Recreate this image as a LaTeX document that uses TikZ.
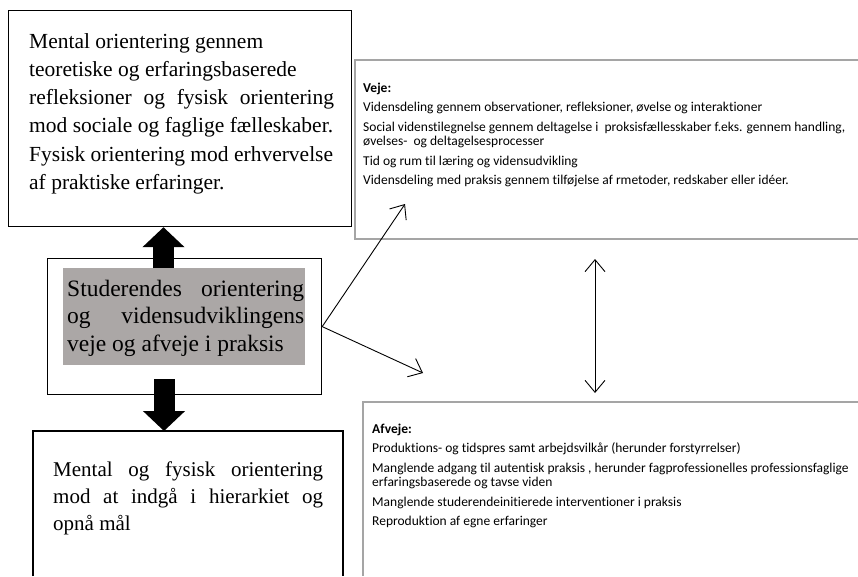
\documentclass[tikz,border=0pt]{standalone}
\usepackage{fontspec}
\setmainfont{Liberation Serif}
\newfontfamily\calibri[RawFeature={-liga}]{Carlito}
\usetikzlibrary{arrows.meta}
\definecolor{boxgray}{RGB}{165,165,165}
\definecolor{markgray}{RGB}{171,167,166}
\tikzset{
  blackbox/.style={draw=black, line width=1.2pt},
  graybox/.style={draw=boxgray, line width=2.4pt},
  barb/.tip={Straight Barb[length=12pt,width=20pt]},
  thinline/.style={line width=0.9pt},
  blockarrow/.style={line width=21pt, -{Triangle[length=20pt,width=41pt]}},
  txt/.style={anchor=base west, inner sep=0pt},
}
\newcommand{\serifbig}{\fontsize{21.5}{28.3}\selectfont}
\newcommand{\serifmid}{\fontsize{23.5}{27.5}\selectfont}
\newcommand{\seriflow}{\fontsize{21}{27}\selectfont}
\newcommand{\listfont}{\calibri\fontsize{13.5}{14.5}\selectfont\setlength{\parskip}{5pt}}
\newcommand{\wideline}[1]{\hbox to 305pt{#1}}
\begin{document}
\begin{tikzpicture}[x=1pt,y=-1pt]
\useasboundingbox (0,0) rectangle (858,576);

% boxes
\node[blackbox, anchor=north west, minimum width=343pt, minimum height=216pt, inner sep=0pt] (top) at (8,10) {};
\node[blackbox, anchor=north west, minimum width=274pt, minimum height=136pt, inner sep=0pt] (mid) at (47,258) {};
\node[fill=markgray, anchor=north west, minimum width=242pt, minimum height=97pt, inner sep=0pt] (mark) at (63,268) {};
\draw[blackbox] (33,576) -- (33,431) coordinate (botnw) -- (343,431) coordinate (botne) -- (343,576);
\coordinate (botn) at (188,431);
\draw[graybox] (858,60) -- (355,60) coordinate (vejenw) -- (355,239) -- (858,239);
\draw[graybox] (858,402) -- (363,402) coordinate (afvejenw) -- (363,576);

% texts
\node[txt] (toptext) at (29,48) {\parbox[t]{320pt}{\serifbig\raggedright
Mental orientering gennem\\
teoretiske og erfaringsbaserede\\
\wideline{refleksioner\hfill og\hfill fysisk\hfill orientering}
mod sociale og faglige fælleskaber.\\
Fysisk orientering mod erhvervelse\\
af praktiske erfaringer.}};

\node[txt] (midtext) at (67,296) {\parbox[t]{237pt}{\serifmid
\hbox to \linewidth{Studerendes\hfill orientering}
\hbox to \linewidth{og\hfill vidensudviklingens}
\hbox{veje og afveje i praksis}}};

\node[txt] (bottext) at (53,476) {\parbox[t]{270pt}{\seriflow
\hbox to \linewidth{Mental\hfill og\hfill fysisk\hfill orientering}
\hbox to \linewidth{mod\hfill at\hfill indgå\hfill i\hfill hierarkiet\hfill og}
\hbox{opnå mål}}};

\node[txt] (vejetext) at (363,92) {\parbox[t]{490pt}{\listfont\raggedright
\textbf{Veje:}\par
Vidensdeling gennem observationer, refleksioner, øvelse og interaktioner\par
Social videnstilegnelse gennem deltagelse i\ \ proksisfællesskaber f.eks. gennem handling,\newline
øvelses-\ \ og deltagelsesprocesser\par
Tid og rum til læring og vidensudvikling\par
Vidensdeling med praksis gennem tilføjelse af rmetoder, redskaber eller idéer.\par}};

\node[txt] (afvejetext) at (372,433) {\parbox[t]{480pt}{\listfont\raggedright
\textbf{Afveje:}\par
Produktions- og tidspres samt arbejdsvilkår (herunder forstyrrelser)\par
Manglende adgang til autentisk praksis , herunder fagprofessionelles professionsfaglige\newline
erfaringsbaserede og tavse viden\par
Manglende studerendeinitierede interventioner i praksis\par
Reproduktion af egne erfaringer\par}};

% block arrows
\coordinate (upx) at (163.5,0);
\draw[blockarrow] (mark.north -| upx) -- (top.south -| upx);
\coordinate (dnstart) at (164,379);
\draw[blockarrow] (dnstart) -- (dnstart |- botn);

% thin arrows
\coordinate (vejeend) at (405,204);
\coordinate (afvejeend) at (423,373);
\draw[thinline, -barb] (mid.east) -- (vejeend);
\draw[thinline, -barb] (mid.east) -- (afvejeend);
\coordinate (linktop) at (595,259);
\coordinate (linkbot) at (595,393);
\draw[thinline, barb-barb] (linktop) -- (linkbot);
\end{tikzpicture}
\end{document}
